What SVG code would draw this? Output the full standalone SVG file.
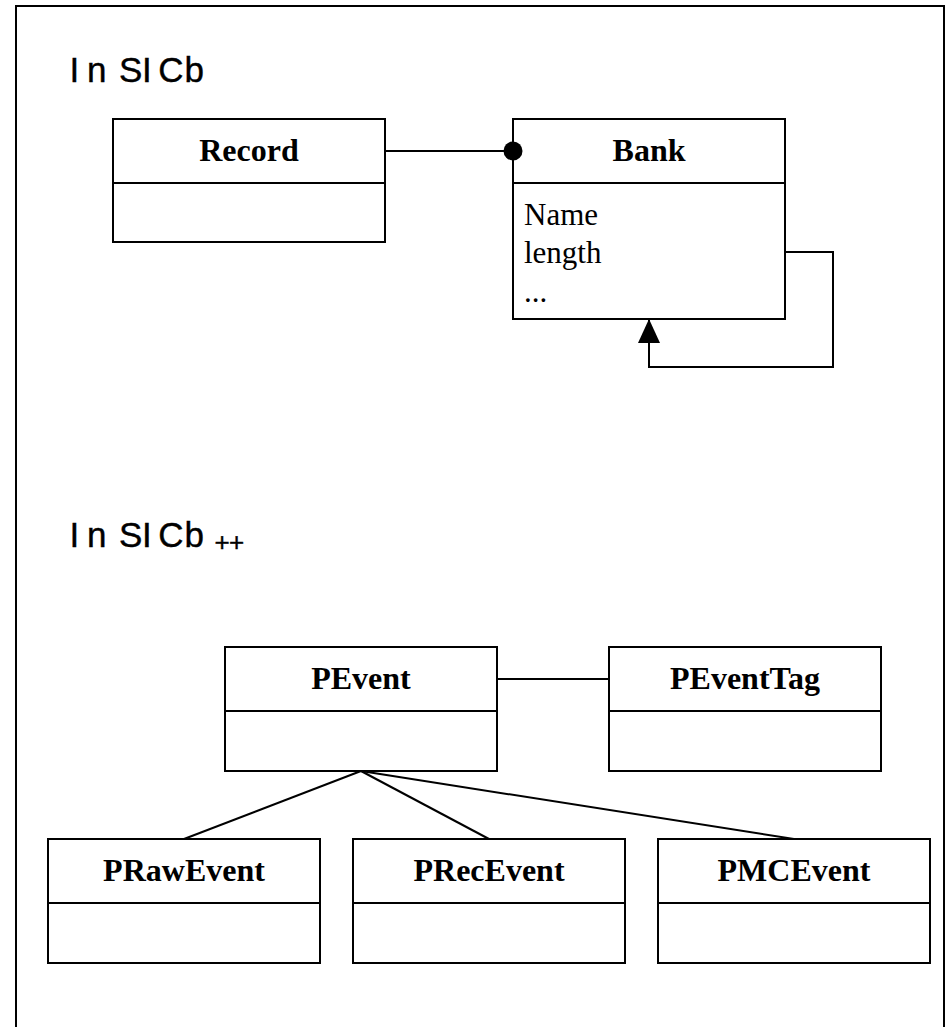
<svg xmlns="http://www.w3.org/2000/svg" width="948" height="1027" viewBox="0 0 948 1027">
  <style>
    .box { fill: #ffffff; stroke: #000000; stroke-width: 2; }
    .div { stroke: #000000; stroke-width: 2; }
    .title { font-family: "Liberation Serif", "Times New Roman", serif; font-weight: bold; font-size: 32px; text-anchor: middle; fill: #000000; }
    .attr { font-family: "Liberation Serif", "Times New Roman", serif; font-size: 31px; fill: #000000; }
    .label { font-family: "Liberation Sans", Arial, sans-serif; font-size: 35px; fill: #000000; stroke: #000000; stroke-width: 0.4; }
    .small { font-size: 26px; }
    .wire { fill: none; stroke: #000000; stroke-width: 2; }
  </style>
  <defs>
    <!-- filled triangular head, tip at the end of the path -->
    <marker id="tri" viewBox="0 0 24 22" refX="23" refY="11" markerWidth="24" markerHeight="22" markerUnits="userSpaceOnUse" orient="auto">
      <path d="M0 0 L24 11 L0 22 Z" fill="#000000"/>
    </marker>
  </defs>

  <rect x="0" y="0" width="948" height="1027" fill="#ffffff"/>

  <!-- outer frame (runs past the bottom edge) -->
  <path d="M16 1040 L16 6 L944 6 L944 1040" fill="none" stroke="#000000" stroke-width="2"/>

  <!-- section labels -->
  <text class="label" x="69.4 87 100 119 142 158.2 184.5" y="82">In SICb</text>
  <text class="label" y="547"><tspan x="69.4 87 100 119 142 158.2 184.5">In SICb</tspan><tspan class="small" x="214.5 229" y="551">++</tspan></text>

  <!-- connectors -->
  <g id="connectors">
    <line class="wire" x1="385" y1="151" x2="513" y2="151"/>
    <path class="wire" d="M785 252 L833 252 L833 367 L649 367 L649 320" marker-end="url(#tri)"/>
    <line class="wire" x1="497" y1="679" x2="609" y2="679"/>
    <line class="wire" x1="361" y1="771" x2="184" y2="839"/>
    <line class="wire" x1="361" y1="771" x2="489" y2="839"/>
    <line class="wire" x1="361" y1="771" x2="794" y2="839"/>
  </g>

  <g id="record">
    <rect class="box" x="113" y="119" width="272" height="123"/>
    <line class="div" x1="113" y1="183" x2="385" y2="183"/>
    <text class="title" x="249" y="161">Record</text>
  </g>

  <g id="bank">
    <rect class="box" x="513" y="119" width="272" height="200"/>
    <line class="div" x1="513" y1="183" x2="785" y2="183"/>
    <text class="title" x="649" y="161">Bank</text>
    <text class="attr" x="524" y="225">Name</text>
    <text class="attr" x="524" y="263">length</text>
    <text class="attr" x="524" y="302">...</text>
  </g>
  <!-- aggregation dot where the Record line meets Bank -->
  <circle cx="513" cy="151" r="9.5" fill="#000000"/>

  <g id="pevent">
    <rect class="box" x="225" y="647" width="272" height="124"/>
    <line class="div" x1="225" y1="711" x2="497" y2="711"/>
    <text class="title" x="361" y="689">PEvent</text>
  </g>

  <g id="peventtag">
    <rect class="box" x="609" y="647" width="272" height="124"/>
    <line class="div" x1="609" y1="711" x2="881" y2="711"/>
    <text class="title" x="745" y="689">PEventTag</text>
  </g>

  <g id="prawevent">
    <rect class="box" x="48" y="839" width="272" height="124"/>
    <line class="div" x1="48" y1="903" x2="320" y2="903"/>
    <text class="title" x="184" y="881">PRawEvent</text>
  </g>

  <g id="precevent">
    <rect class="box" x="353" y="839" width="272" height="124"/>
    <line class="div" x1="353" y1="903" x2="625" y2="903"/>
    <text class="title" x="489" y="881">PRecEvent</text>
  </g>

  <g id="pmcevent">
    <rect class="box" x="658" y="839" width="272" height="124"/>
    <line class="div" x1="658" y1="903" x2="930" y2="903"/>
    <text class="title" x="794" y="881">PMCEvent</text>
  </g>
</svg>
